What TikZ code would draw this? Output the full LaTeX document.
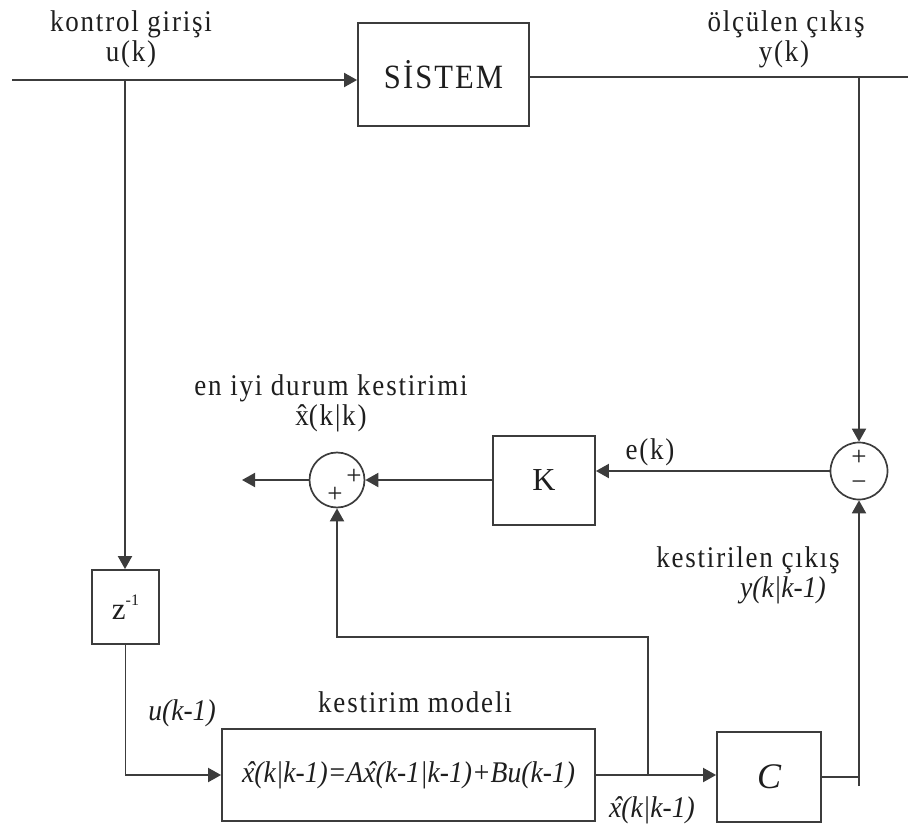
\documentclass[tikz,border=0pt]{standalone}
\usepackage{fontspec}
\setmainfont{Liberation Serif}
\newfontfamily\lblfont[LetterSpace=6,FakeStretch=0.9]{Liberation Serif}
\newfontfamily\mthfont[FakeStretch=0.92]{Liberation Serif}
\usetikzlibrary{arrows.meta}
\definecolor{linec}{RGB}{60,60,60}
\definecolor{inkc}{RGB}{30,30,30}
% x with a circumflex set high above it
\newcommand\xh{\ooalign{x\cr\hidewidth ˆ\hidewidth\cr}}
\newcommand\xhi{\ooalign{x\cr\hidewidth\kern0.14em ˆ\hidewidth\cr}}
\begin{document}
\begin{tikzpicture}[x=1pt,y=-1pt,
  wire/.style={draw=linec, line width=1.9pt},
  arr/.style={wire, -{Triangle[length=13pt,width=14pt]}},
  blk/.style={draw=linec, line width=1.8pt, inner sep=0pt, text=inkc},
  sumj/.style={circle, draw=linec, line width=1.7pt, inner sep=0pt, minimum size=#1},
  lbl/.style={text=inkc, font=\lblfont\fontsize{30}{32}\selectfont, inner sep=0pt, anchor=base},
  mth/.style={text=inkc, font=\mthfont\fontsize{30}{32}\selectfont\itshape, inner sep=0pt, anchor=base},
  sgn/.style={text=inkc, font=\fontsize{27}{27}\selectfont, inner sep=0pt}]
\useasboundingbox (0,0) rectangle (908,824);

% blocks
\node[blk, minimum width=171pt, minimum height=103pt,
      font=\lblfont\fontsize{34}{36}\selectfont] (sys) at (443.5,74.5) {SİSTEM};
\node[blk, minimum width=102pt, minimum height=89pt,
      font=\fontsize{32}{34}\selectfont] (K) at (544,480.5) {K};
\node[blk, minimum width=67pt, minimum height=74pt,
      font=\fontsize{31}{33}\selectfont] (z) at (125.5,607)
      {z\raisebox{0.45em}{\fontsize{16}{16}\selectfont -1}};
\node[blk, minimum width=373pt, minimum height=92pt,
      font=\mthfont\fontsize{30}{32}\selectfont\itshape] (mdl) at (408.5,775)
      {\xhi(k|k-1)=A\xhi(k-1|k-1)+Bu(k-1)};
\node[blk, minimum width=104pt, minimum height=90pt,
      font=\fontsize{36}{38}\selectfont\itshape] (C) at (769,777) {C};

% summing junctions
\node[sumj=57pt] (sumR) at (859,471) {};
\node[sumj=55pt] (sumL) at (337,480) {};
\node[sgn] (pR) at (859,458) {+};
\node[sgn] (mR) at (859,486) {−};
\node[sgn] (pL1) at (354,477) {+};
\node[sgn] (pL2) at (335,495) {+};

% branch points and free ends
\coordinate (uin) at (12,80);
\coordinate (uk) at (125,80);
\coordinate (yout) at (908,77);
\coordinate (yk) at (859,77);
\coordinate (xo) at (242,480);
\coordinate (jx) at (648,775);
\coordinate (fbr) at (648,637);
\coordinate (ycr) at (859,786);

% signal paths
\draw[arr] (uin) -- (uin -| sys.west);
\draw[wire] (sys.east |- yout) -- (yout);
\draw[arr] (yk) -- (sumR.north);
\draw[arr] (sumR.west) -- (sumR.west -| K.east);
\draw[arr] (K.west |- sumL) -- (sumL.east);
\draw[arr] (sumL.west) -- (xo);
\draw[arr] (uk) -- (uk |- z.north);
\draw[arr] (z.south) -- (z.south |- mdl.west) -- (mdl.west);
\draw[arr] (mdl.east) -- (mdl.east -| C.west);
\draw[arr] (jx) -- (fbr) -- (fbr -| sumL.south) -- (sumL.south);
\draw[wire] (C.east) -- (C.east -| ycr);
\draw[arr] (ycr) -- (sumR.south);

% labels
\node[lbl] (l1) at (131,32) {kontrol girişi};
\node[lbl] (l2) at (131,62) {u(k)};
\node[lbl] (l3) at (786,32) {ölçülen çıkış};
\node[lbl] (l4) at (784,62) {y(k)};
\node[lbl] (l5) at (331,395) {en iyi durum kestirimi};
\node[lbl] (l6) at (331,425) {\xh(k|k)};
\node[lbl] (l7) at (650,459) {e(k)};
\node[lbl] (l8) at (748,567) {kestirilen çıkış};
\node[mth] (l9) at (783,597) {y(k|k-1)};
\node[lbl] (l10) at (415,712) {kestirim modeli};
\node[mth] (l11) at (182,720) {u(k-1)};
\node[mth] (l12) at (652,817) {\xhi(k|k-1)};
\end{tikzpicture}
\end{document}
